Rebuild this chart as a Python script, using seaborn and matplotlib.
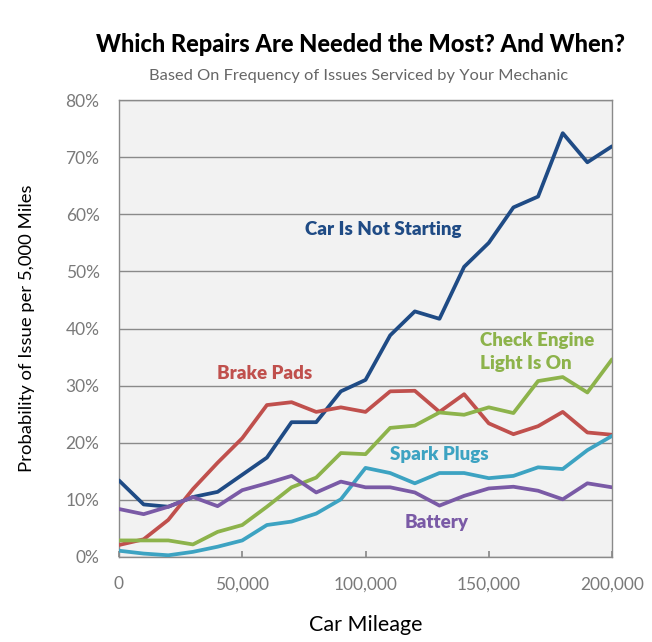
import numpy as np
import pandas as pd
import matplotlib
matplotlib.use("Agg")
import matplotlib.pyplot as plt
import seaborn as sns
from matplotlib.ticker import FuncFormatter

mileage = list(range(0, 200001, 10000))

not_starting = [13.4, 9.2, 8.8, 10.5, 11.4, 14.4, 17.4, 23.6, 23.6, 29.0, 31.0,
                38.8, 43.0, 41.7, 50.8, 55.0, 61.2, 63.1, 74.2, 69.1, 71.9]
brake_pads = [2.1, 3.1, 6.5, 11.9, 16.5, 20.8, 26.6, 27.1, 25.4, 26.2, 25.4,
              29.0, 29.1, 25.4, 28.5, 23.4, 21.5, 22.9, 25.4, 21.8, 21.4]
check_engine = [2.9, 2.9, 2.9, 2.2, 4.4, 5.6, 8.8, 12.2, 13.9, 18.2, 18.0,
                22.6, 23.0, 25.3, 24.9, 26.2, 25.2, 30.8, 31.5, 28.8, 34.6]
spark_plugs = [1.1, 0.6, 0.3, 0.9, 1.8, 2.9, 5.6, 6.2, 7.6, 10.1, 15.6,
               14.7, 12.9, 14.7, 14.7, 13.8, 14.2, 15.7, 15.4, 18.7, 21.2]
battery = [8.4, 7.5, 8.8, 10.5, 8.9, 11.7, 12.9, 14.2, 11.3, 13.2, 12.2,
           12.2, 11.3, 9.0, 10.7, 12.0, 12.3, 11.6, 10.1, 12.9, 12.2]

series_names = ["Car Is Not Starting", "Brake Pads", "Check Engine\nLight Is On",
                "Spark Plugs", "Battery"]
series_values = [not_starting, brake_pads, check_engine, spark_plugs, battery]
colors = ["#1f4b85", "#c0504d", "#8db34b", "#3da3c2", "#7a5aa6"]

rows = []
for name, vals in zip(series_names, series_values):
    for m, v in zip(mileage, vals):
        rows.append({"Mileage": m, "Value": v, "Series": name})
df = pd.DataFrame(rows)

sns.set_theme(style="white")
plt.rcParams["font.family"] = ["Lato", "DejaVu Sans"]

fig = plt.figure(figsize=(6.52, 6.42), dpi=100)
ax = fig.add_axes([0.1825, 0.1324, 0.7562, 0.7118])
ax.set_facecolor("#f2f2f2")

sns.lineplot(data=df, x="Mileage", y="Value", hue="Series",
             palette=dict(zip(series_names, colors)), linewidth=2.7,
             legend=False, ax=ax, zorder=3)

ax.set_xlim(0, 200000)
ax.set_ylim(0, 80)
ax.set_xticks([0, 50000, 100000, 150000, 200000])
ax.set_yticks(range(0, 81, 10))
ax.xaxis.set_major_formatter(FuncFormatter(lambda v, p: f"{int(v):,}"))
ax.yaxis.set_major_formatter(FuncFormatter(lambda v, p: f"{int(v)}%"))
ax.grid(axis="y", color="#8a8a8a", linewidth=1.0, zorder=1)
ax.set_axisbelow(True)
for s in ax.spines.values():
    s.set_color("#8a8a8a")
    s.set_linewidth(1.0)
ax.tick_params(axis="x", direction="in", length=4, color="#8a8a8a",
               labelsize=12.5, labelcolor="#7a7a7a", pad=14, bottom=True)
ax.tick_params(axis="y", length=0, labelsize=12.5, labelcolor="#7a7a7a", pad=14)

ax.set_xlabel("Car Mileage", fontsize=15.5, color="black", labelpad=16)
ax.set_ylabel("Probability of Issue per 5,000 Miles", fontsize=13.3, color="black", labelpad=22)

label_pos = [(107000, 57.4), (59000, 32.2), (169500, 35.9), (130000, 17.9), (129000, 6.0)]
for name, (lx, ly), c in zip(series_names, label_pos, colors):
    ax.text(lx, ly, name, color=c, fontsize=13.5, fontweight="heavy",
            ha="center", va="center", multialignment="left",
            linespacing=1.45, zorder=4)

fig.text(0.553, 0.930, "Which Repairs Are Needed the Most? And When?",
         ha="center", va="center", fontsize=17, fontweight="black", color="black")
fig.text(0.55, 0.881, "Based On Frequency of Issues Serviced by Your Mechanic",
         ha="center", va="center", fontsize=11.8, color="#666666")

fig.savefig("out.png", dpi=100)
